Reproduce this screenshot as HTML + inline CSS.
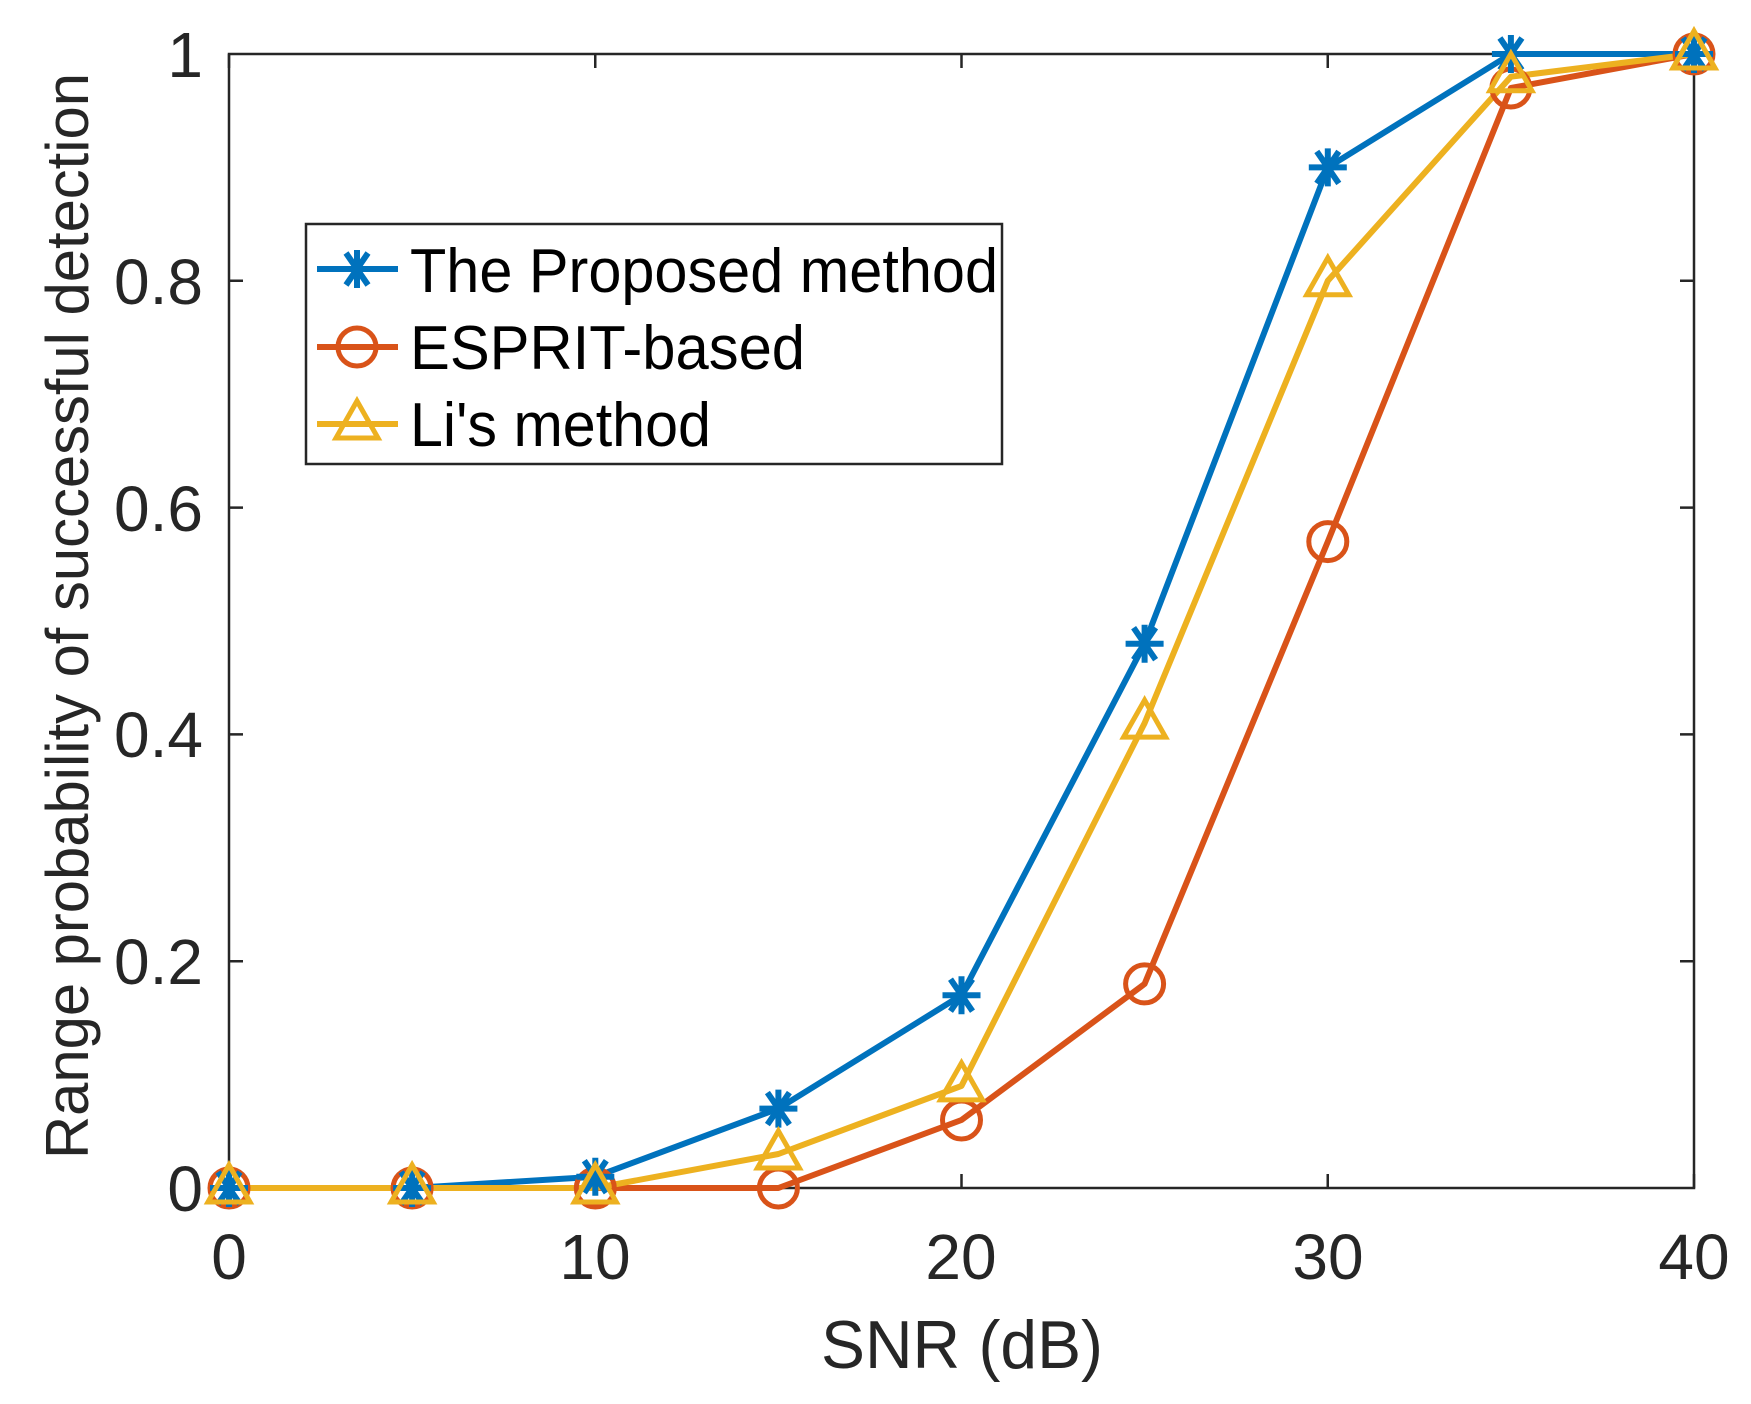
<!DOCTYPE html>
<html><head><meta charset="utf-8"><style>html,body{margin:0;padding:0;background:#fff}svg{display:block}</style></head>
<body>
<svg width="1751" height="1404" viewBox="0 0 1751 1404" xmlns="http://www.w3.org/2000/svg" font-family="Liberation Sans, sans-serif">
<rect width="1751" height="1404" fill="#fff"/>
<g stroke="#262626" stroke-width="2.5" fill="none">
<rect x="229" y="54" width="1465" height="1134"/>
<path d="M229,1188v-14M595.25,1188v-14M961.5,1188v-14M1327.75,1188v-14M1694,1188v-14M229,54v14M595.25,54v14M961.5,54v14M1327.75,54v14M1694,54v14M229,961.2h14M229,734.4h14M229,507.6h14M229,280.8h14M1694,961.2h-14M1694,734.4h-14M1694,507.6h-14M1694,280.8h-14"/>
</g>
<g fill="#262626" font-size="64" text-anchor="middle">
<text x="229" y="1279">0</text><text x="595" y="1279">10</text><text x="961" y="1279">20</text><text x="1328" y="1279">30</text><text x="1694" y="1279">40</text>
</g>
<g fill="#262626" font-size="64" text-anchor="end">
<text x="203" y="1211">0</text><text x="203" y="984">0.2</text><text x="203" y="757">0.4</text><text x="203" y="531">0.6</text><text x="203" y="304">0.8</text><text x="203" y="77">1</text>
</g>
<text x="962" y="1368" font-size="68" fill="#262626" text-anchor="middle" textLength="282" lengthAdjust="spacingAndGlyphs">SNR (dB)</text>
<text transform="translate(88,616) rotate(-90)" font-size="60" fill="#262626" text-anchor="middle" textLength="1086" lengthAdjust="spacingAndGlyphs">Range probability of successful detection</text>
<defs>
<g id="st"><path d="M-19,0H19M0,-19V19M-11,-16L11,16M-11,16L11,-16" stroke="#0072BD" stroke-width="6" fill="none"/></g>
<g id="ci"><circle r="19" stroke="#D95319" stroke-width="5" fill="none"/></g>
<g id="tr"><path d="M0,-23L21,14H-21Z" stroke="#EDB120" stroke-width="5" fill="none"/></g>
</defs>
<polyline fill="none" stroke="#D95319" stroke-width="6" stroke-linejoin="round" points="229,1188 412.1,1188 595.3,1188 778.4,1188 961.5,1120 1144.6,983.9 1327.8,541.6 1510.9,088 1694,54"/>
<polyline fill="none" stroke="#0072BD" stroke-width="6" stroke-linejoin="round" points="229,1188 412.1,1188 595.3,1176.7 778.4,1108.6 961.5,995.2 1144.6,643.7 1327.8,167.4 1510.9,54 1694,54"/>
<polyline fill="none" stroke="#EDB120" stroke-width="6" stroke-linejoin="round" points="229,1188 412.1,1188 595.3,1188 778.4,1154 961.5,1085.9 1144.6,723.1 1327.8,280.8 1510.9,76.7 1694,54"/>
<g>
<use href="#ci" x="229" y="1188"/><use href="#ci" x="412.1" y="1188"/><use href="#ci" x="595.3" y="1188"/><use href="#ci" x="778.4" y="1188"/><use href="#ci" x="961.5" y="1120"/><use href="#ci" x="1144.6" y="983.9"/><use href="#ci" x="1327.8" y="541.6"/><use href="#ci" x="1510.9" y="88"/><use href="#ci" x="1694" y="54"/>
<use href="#st" x="229" y="1188"/><use href="#st" x="412.1" y="1188"/><use href="#st" x="595.3" y="1176.7"/><use href="#st" x="778.4" y="1108.6"/><use href="#st" x="961.5" y="995.2"/><use href="#st" x="1144.6" y="643.7"/><use href="#st" x="1327.8" y="167.4"/><use href="#st" x="1510.9" y="54"/><use href="#st" x="1694" y="54"/>
<use href="#tr" x="229" y="1188"/><use href="#tr" x="412.1" y="1188"/><use href="#tr" x="595.3" y="1188"/><use href="#tr" x="778.4" y="1154"/><use href="#tr" x="961.5" y="1085.9"/><use href="#tr" x="1144.6" y="723.1"/><use href="#tr" x="1327.8" y="280.8"/><use href="#tr" x="1510.9" y="76.7"/><use href="#tr" x="1694" y="54"/>
</g>
<rect x="306" y="224" width="696" height="240" fill="#fff" stroke="#262626" stroke-width="2.5"/>
<path d="M317,269H398" stroke="#0072BD" stroke-width="6"/><use href="#st" x="357" y="269"/>
<path d="M317,347H398" stroke="#D95319" stroke-width="6"/><use href="#ci" x="357" y="347"/>
<path d="M317,424H398" stroke="#EDB120" stroke-width="6"/><use href="#tr" x="357" y="424"/>
<g font-size="62" fill="#000">
<text x="410" y="292" textLength="588" lengthAdjust="spacingAndGlyphs">The Proposed method</text>
<text x="410" y="369" textLength="395" lengthAdjust="spacingAndGlyphs">ESPRIT-based</text>
<text x="410" y="446" textLength="301" lengthAdjust="spacingAndGlyphs">Li's method</text>
</g>
</svg>
</body></html>
